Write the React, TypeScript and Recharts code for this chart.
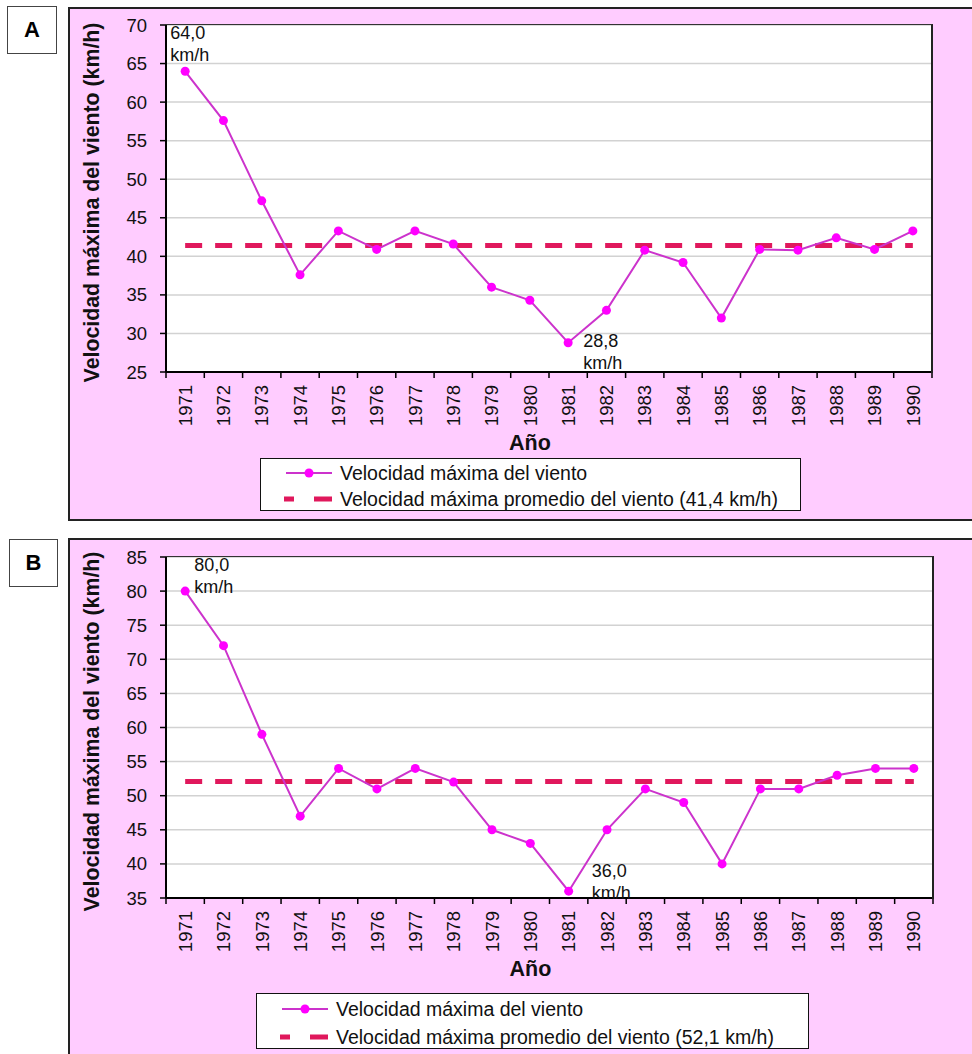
import { LineChart, Line, XAxis, YAxis, CartesianGrid } from 'recharts';

const YEARS = ['1971', '1972', '1973', '1974', '1975', '1976', '1977', '1978', '1979', '1980',
  '1981', '1982', '1983', '1984', '1985', '1986', '1987', '1988', '1989', '1990'];

const SPEED_A = [64.0, 57.6, 47.2, 37.6, 43.3, 40.9, 43.3, 41.6, 36.0, 34.3,
  28.8, 33.0, 40.8, 39.2, 32.0, 40.9, 40.8, 42.4, 40.9, 43.3];
const MEAN_A = 41.4;
const TICKS_A = [25, 30, 35, 40, 45, 50, 55, 60, 65, 70];

const SPEED_B = [80, 72, 59, 47, 54, 51, 54, 52, 45, 43,
  36, 45, 51, 49, 40, 51, 51, 53, 54, 54];
const MEAN_B = 52.1;
const TICKS_B = [35, 40, 45, 50, 55, 60, 65, 70, 75, 80, 85];

const SERIES_NAME = 'Velocidad máxima del viento';
const MEAN_NAME_A = 'Velocidad máxima promedio del viento (41,4 km/h)';
const MEAN_NAME_B = 'Velocidad máxima promedio del viento (52,1 km/h)';
const Y_TITLE = 'Velocidad máxima del viento (km/h)';
const X_TITLE = 'Año';

const FONT = '"Liberation Sans", Arial, Helvetica, sans-serif';
const LINE_COLOR = '#CC33CC';
const DOT_COLOR = '#FF00FF';
const MEAN_COLOR = '#E0185C';
const PINK = '#FFCCFF';

const fmt = (v: number) => v.toFixed(1).replace('.', ',');

const Panel = ({ letter, speeds, mean, ticks, meanName, lay }: any) => {
  // table built from the arrays; the average is drawn from first to last year
  const data = YEARS.map((year, i) => ({ year, speed: speeds[i], mean }));
  const maxI = speeds.indexOf(Math.max(...speeds));
  const minI = speeds.indexOf(Math.min(...speeds));
  const plotW = 972 - lay.margin.left - lay.margin.right - 100;
  const half = plotW / YEARS.length / 2;
  const plotTop = lay.chartTop + lay.margin.top;
  const plotBottom = lay.chartTop + lay.chartH - lay.margin.bottom - 60;

  const YearTick = ({ x, y, payload, index }: any) => {
    const axisY = y - 8;
    return (
      <g>
        <line x1={x - half} x2={x - half} y1={axisY} y2={axisY + 6} stroke="#000" strokeWidth={1.5} />
        {index === YEARS.length - 1 && (
          <line x1={x + half} x2={x + half} y1={axisY} y2={axisY + 6} stroke="#000" strokeWidth={1.5} />
        )}
        <text transform={`translate(${x},${axisY + 13}) rotate(-90)`} textAnchor="end" dy="0.36em"
          fontSize={18.5} fill="#111" fontFamily={FONT}>{payload.value}</text>
      </g>
    );
  };

  const PeakLabel = (p: any) => {
    const { x, y, index, value } = p;
    let o = null;
    if (index === maxI) o = lay.maxOff;
    if (index === minI) o = lay.minOff;
    if (!o) return null;
    return (
      <g fontFamily={FONT} fontSize={18} fill="#111">
        <text x={x + o[0]} y={y + o[1]} dominantBaseline="central">{fmt(value)}</text>
        <text x={x + o[0]} y={y + o[2]} dominantBaseline="central">km/h</text>
      </g>
    );
  };

  return (
    <>
      <div style={{ position: 'absolute', left: lay.pink[0], top: lay.pink[1], width: lay.pink[2], height: lay.pink[3],
        background: PINK, border: '2px solid #222', boxSizing: 'border-box' }} />
      <div style={{ position: 'absolute', left: lay.box[0], top: lay.box[1], width: lay.box[2], height: lay.box[3],
        background: '#fff', border: '1.5px solid #444', boxSizing: 'border-box', display: 'flex',
        alignItems: 'center', justifyContent: 'center', fontFamily: FONT, fontWeight: 'bold', fontSize: 22 }}>
        {letter}
      </div>
      <div style={{ position: 'absolute', left: 0, top: lay.chartTop }}>
        <LineChart width={972} height={lay.chartH} data={data} margin={lay.margin}>
          <CartesianGrid vertical={false} stroke="#D2D2D2" strokeWidth={1.5} fill="#fff" />
          <XAxis dataKey="year" scale="band" height={60} interval={0} tickLine={false} tickSize={6} tickMargin={2}
            axisLine={{ stroke: '#000', strokeWidth: 2 }} tick={<YearTick />}
            label={{
              content: (p: any) => {
                const vb = p.viewBox;
                return (
                  <text x={vb.x + vb.width / 2 - 19} y={vb.y + 71} textAnchor="middle" dominantBaseline="central"
                    fontFamily={FONT} fontWeight="bold" fontSize={21.5} fill="#111">{X_TITLE}</text>
                );
              },
            }} />
          <YAxis width={100} domain={[ticks[0], ticks[ticks.length - 1]]} ticks={ticks} interval={0}
            tickSize={6} tickMargin={13} tickLine={{ stroke: '#000', strokeWidth: 1.5 }}
            axisLine={{ stroke: '#000', strokeWidth: 2 }}
            tick={{ fontSize: 18.5, fill: '#111', fontFamily: FONT }}
            label={{
              content: (p: any) => {
                const vb = p.viewBox;
                return (
                  <text transform={`translate(${vb.x + 26},${vb.y + vb.height / 2 + 4}) rotate(-90)`}
                    textAnchor="middle" dominantBaseline="central"
                    fontFamily={FONT} fontWeight="bold" fontSize={21.3} fill="#111">{Y_TITLE}</text>
                );
              },
            }} />
          <Line type="linear" dataKey="mean" stroke={MEAN_COLOR} strokeWidth={5} strokeDasharray="17 13"
            dot={false} activeDot={false} isAnimationActive={false} />
          <Line type="linear" dataKey="speed" stroke={LINE_COLOR} strokeWidth={2}
            dot={{ r: 4.5, fill: DOT_COLOR, stroke: DOT_COLOR, strokeWidth: 0 }}
            label={<PeakLabel />} isAnimationActive={false} />
        </LineChart>
      </div>
      <div style={{ position: 'absolute', left: 972 - lay.margin.right - plotW - 1, top: plotTop - 1,
        width: plotW + 2, height: plotBottom - plotTop + 2, borderTop: '1.5px solid #333',
        borderRight: '2px solid #222', boxSizing: 'border-box', pointerEvents: 'none' }} />
      <div style={{ position: 'absolute', left: lay.legend[0], top: lay.legend[1], width: lay.legend[2],
        height: lay.legend[3], background: '#fff', border: '1.5px solid #111', boxSizing: 'border-box',
        fontFamily: FONT, fontSize: 19.5, color: '#111' }}>
        <div style={{ position: 'absolute', left: 23, top: lay.rows[0] - 12, height: 24, display: 'flex', alignItems: 'center' }}>
          <svg width={50} height={12} style={{ marginRight: 6 }}>
            <line x1={2} x2={48} y1={6} y2={6} stroke={LINE_COLOR} strokeWidth={2} />
            <circle cx={25} cy={6} r={4.5} fill={DOT_COLOR} />
          </svg>
          <span style={{ whiteSpace: 'nowrap' }}>{SERIES_NAME}</span>
        </div>
        <div style={{ position: 'absolute', left: 23, top: lay.rows[1] - 12, height: 24, display: 'flex', alignItems: 'center' }}>
          <svg width={50} height={12} style={{ marginRight: 6 }}>
            <line x1={0} x2={48} y1={6} y2={6} stroke={MEAN_COLOR} strokeWidth={5} strokeDasharray="10 20 18" />
          </svg>
          <span style={{ whiteSpace: 'nowrap' }}>{meanName}</span>
        </div>
      </div>
    </>
  );
};

const LAYOUT_A = {
  pink: [68, 7, 906, 514],
  box: [7, 6, 50, 48],
  chartTop: 0,
  chartH: 530,
  margin: { top: 25, right: 40, left: 66, bottom: 98 },
  legend: [260, 458, 541, 53],
  rows: [14, 40],
  maxOff: [-15, -38, -16],
  minOff: [15, -2, 20],
};

const LAYOUT_B = {
  pink: [68, 538, 906, 530],
  box: [9, 539, 49, 48],
  chartTop: 530,
  chartH: 524,
  margin: { top: 27, right: 39, left: 66, bottom: 96 },
  legend: [256, 993, 553, 56],
  rows: [15, 43],
  maxOff: [9, -26, -4],
  minOff: [23, -20, 2],
};

export default function App() {
  return (
    <div style={{ position: 'absolute', left: 0, top: 0, width: 972, height: 1054, overflow: 'hidden', background: '#fff' }}>
      <Panel letter="A" speeds={SPEED_A} mean={MEAN_A} ticks={TICKS_A} meanName={MEAN_NAME_A} lay={LAYOUT_A} />
      <Panel letter="B" speeds={SPEED_B} mean={MEAN_B} ticks={TICKS_B} meanName={MEAN_NAME_B} lay={LAYOUT_B} />
    </div>
  );
}
